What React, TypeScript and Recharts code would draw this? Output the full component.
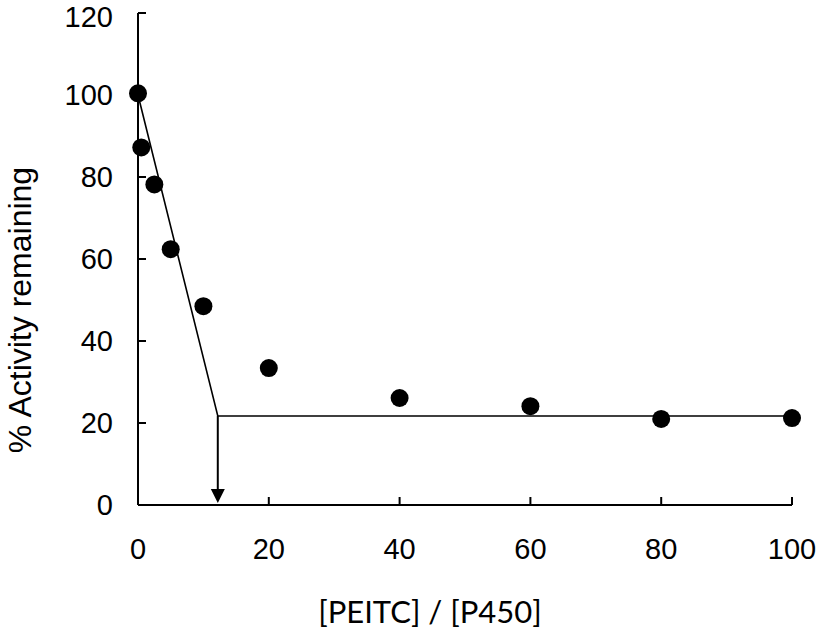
import { ComposedChart, Scatter, Line, XAxis, YAxis, ReferenceLine, Label } from "recharts";

// measured points
const ratio = [0, 0.5, 2.5, 5, 10, 20, 40, 60, 80, 100];
const activity = [100.4, 87.2, 78.2, 62.4, 48.5, 33.4, 26.1, 24.1, 21.0, 21.2];

// two-segment fit: initial slope then plateau
const fitX = [0, 12.2, 100];
const fitY = [100, 21.7, 21.7];

// arrow marking the intercept on the x axis
const arrowX = 12.2;
const arrowTop = 21.7;
const arrowTip = 0.5;

const xTicks = [0, 20, 40, 60, 80, 100];
const yTicks = [0, 20, 40, 60, 80, 100, 120];

const points = ratio.map((x, i) => ({ x, y: activity[i] }));
const fit = fitX.map((x, i) => ({ x, y: fitY[i] }));

const Dot = (p: any) => <circle cx={p.cx} cy={p.cy} r={9} fill="#000" />;

const ArrowHead = (p: any) => (
  <polygon points={`${p.cx},${p.cy} ${p.cx - 7},${p.cy - 14} ${p.cx + 7},${p.cy - 14}`} fill="#000" />
);

const YTitle = ({ viewBox }: any) => {
  const cx = viewBox.x + 19;
  const cy = viewBox.y + viewBox.height / 2 + 51;
  return (
    <text
      x={cx}
      y={cy}
      dy="0.36em"
      transform={`rotate(-90 ${cx} ${cy})`}
      textAnchor="middle"
      fontFamily="Liberation Sans, Arial"
      fontSize={32}
      fill="#000"
    >
      % Activity remaining
    </text>
  );
};

const XTitle = ({ viewBox }: any) => {
  const cx = viewBox.x + viewBox.width / 2 - 35;
  return (
    <text x={cx} y={viewBox.y + viewBox.height - 10} textAnchor="middle" fontFamily="Lato" fontSize={31} fill="#000">
      [PEITC] / [P450]
    </text>
  );
};

const tickStyle = { fontFamily: "Liberation Sans, Arial", fontSize: 29, fill: "#000" };

export default function App() {
  return (
    <div style={{ position: "absolute", left: 0, top: 0, background: "#fff" }}>
      <ComposedChart width={817} height={633} margin={{ top: 13, right: 25, bottom: 0, left: 0 }}>
        <XAxis
          type="number"
          dataKey="x"
          domain={[0, 100]}
          ticks={xTicks}
          height={128}
          tickSize={-8}
          tickMargin={41}
          tick={tickStyle}
          axisLine={{ stroke: "#000", strokeWidth: 2 }}
          tickLine={{ stroke: "#000", strokeWidth: 2 }}
        >
          <Label content={XTitle} />
        </XAxis>
        <YAxis
          type="number"
          domain={[0, 120]}
          ticks={yTicks}
          width={138}
          tickSize={-8}
          tickMargin={33}
          tick={tickStyle}
          axisLine={{ stroke: "#000", strokeWidth: 2 }}
          tickLine={{ stroke: "#000", strokeWidth: 2 }}
        >
          <Label content={YTitle} />
        </YAxis>
        <Line
          data={fit}
          dataKey="y"
          type="linear"
          stroke="#000"
          strokeWidth={1.6}
          dot={false}
          activeDot={false}
          isAnimationActive={false}
        />
        <ReferenceLine
          segment={[
            { x: arrowX, y: arrowTop },
            { x: arrowX, y: arrowTip + 3 },
          ]}
          stroke="#000"
          strokeWidth={2}
        />
        <Scatter data={[{ x: arrowX, y: arrowTip }]} dataKey="y" shape={ArrowHead} isAnimationActive={false} />
        <Scatter data={points} dataKey="y" shape={Dot} isAnimationActive={false} />
      </ComposedChart>
    </div>
  );
}
